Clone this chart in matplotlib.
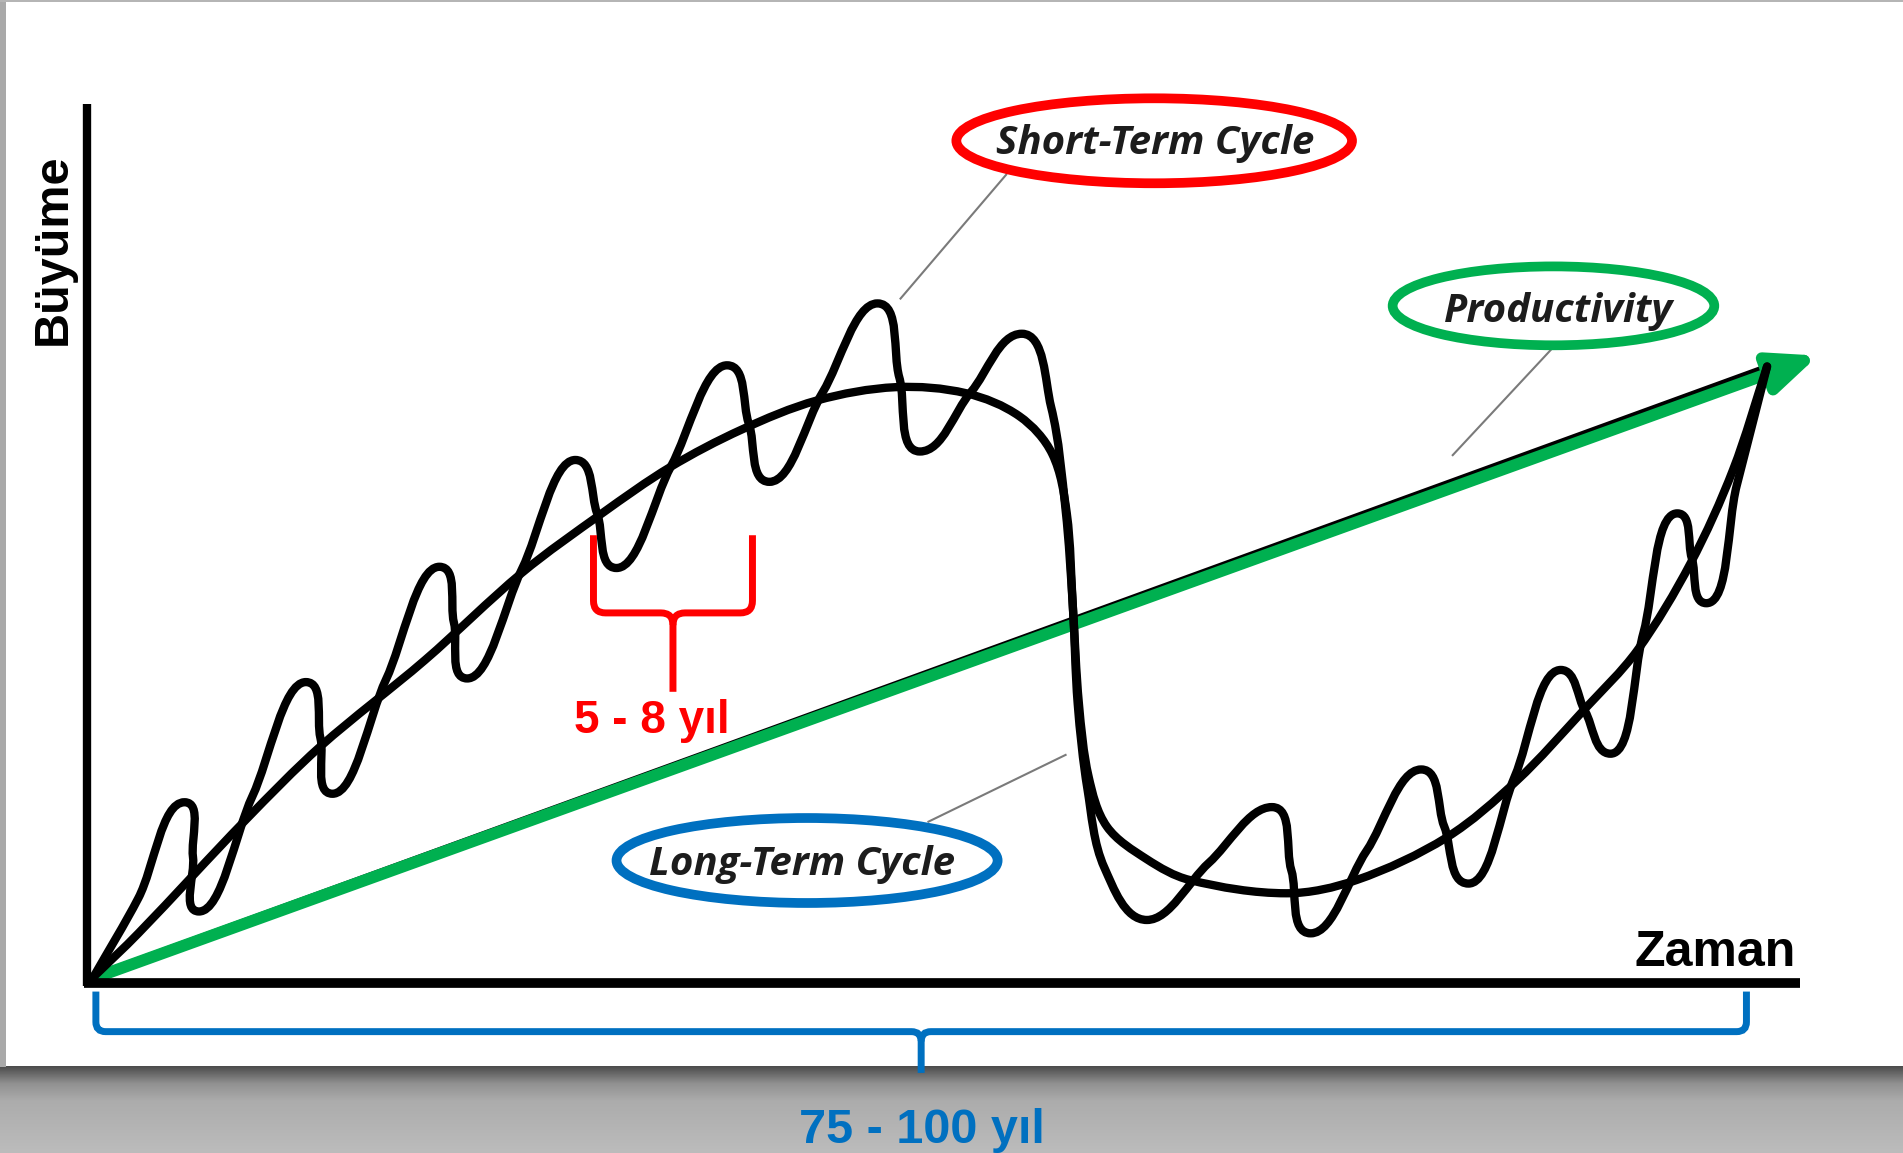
import numpy as np
import matplotlib
matplotlib.use('Agg')
import matplotlib.pyplot as plt
from matplotlib.path import Path
from matplotlib.patches import PathPatch, Ellipse, FancyArrowPatch, Rectangle
from matplotlib.colors import LinearSegmentedColormap

W, H = 1568, 950  # canvas units, y grows downward

# short-term cycle: start, peaks/troughs and the points half way between them
short_x = [77, 114, 152, 159, 164, 208, 252, 264, 274, 318, 362, 374, 385, 430, 474,
           492, 508, 553, 599, 617, 634, 678, 723, 741, 758, 800, 842, 866, 878, 884,
           888, 896, 910, 945, 996, 1048, 1064, 1080, 1126, 1171, 1190, 1210, 1248,
           1286, 1306, 1327, 1354, 1382, 1394, 1406, 1431, 1456]
short_y = [805, 740, 661, 706, 751, 656, 562, 608, 654, 560, 467, 513, 559, 469, 379,
           423, 468, 384, 301, 349, 397, 323, 250, 311, 372, 323, 275, 335, 420, 500,
           580, 650, 715, 758, 711, 665, 717, 769, 701, 634, 681, 728, 640,
           552, 586, 621, 522, 423, 460, 497, 400, 302]
# turning points (peaks and troughs)
short_turn = [0, 0, 1, 0, 1, 0, 1, 0, 1, 0, 1, 0, 1, 0, 1,
              0, 1, 0, 1, 0, 1, 0, 1, 0, 1, 0, 1, 0, 0, 0,
              0, 0, 0, 1, 0, 1, 0, 1, 0, 1, 0, 1, 0,
              1, 0, 1, 0, 1, 0, 1, 0, 0]

# long-term cycle
long_x = [77, 114, 202, 264, 350, 430, 496, 552, 611, 673, 738, 796, 840, 867, 879,
          884, 889, 897, 912, 945, 980, 1060, 1118, 1192, 1250, 1305, 1349, 1393, 1428, 1456]
long_y = [805, 769, 676, 615, 544, 472, 423, 385, 354, 330, 319, 324, 343, 374, 423,
          500, 580, 640, 681, 708, 725, 736, 725, 690, 643, 585, 536, 464, 387, 302]

# productivity trend
trend_x = [77, 1498]
trend_y = [806, 293]

labels = ['Short-Term Cycle', 'Productivity', 'Long-Term Cycle']
label_colors = ['#ff0000', '#00b050', '#0070c0']


def smooth_path(xs, ys, turn=None, k=0.33, cap=19):
    pts = np.column_stack([xs, ys]).astype(float)
    n = len(pts)
    tang = np.zeros_like(pts)
    for i in range(n):
        a, b = pts[max(i - 1, 0)], pts[min(i + 1, n - 1)]
        if turn is not None and turn[i]:
            d = np.array([1.0 if b[0] >= a[0] else -1.0, 0.0])
        else:
            d = b - a
        tang[i] = d / np.hypot(*d)
    verts, codes = [pts[0]], [Path.MOVETO]
    for i in range(n - 1):
        h = k * np.hypot(*(pts[i + 1] - pts[i]))
        h0 = min(h, cap) if (turn is not None and turn[i]) else h
        h1 = min(h, cap) if (turn is not None and turn[i + 1]) else h
        verts += [pts[i] + tang[i] * h0, pts[i + 1] - tang[i + 1] * h1, pts[i + 1]]
        codes += [Path.CURVE4] * 3
    return Path(verts, codes)


fig = plt.figure(figsize=(19.03, 11.53), dpi=100)
ax = fig.add_axes([0, 0, 1, 1])
ax.set_xlim(0, W)
ax.set_ylim(H, 0)
ax.axis('off')

# grey backdrop below the white sheet
shade = LinearSegmentedColormap.from_list(
    'shade', [(0, '#4c4c4c'), (0.08, '#676767'), (0.2, '#919191'),
              (0.4, '#acacac'), (1, '#bcbcbc')])
ax.imshow(np.linspace(0, 1, 200)[:, None], cmap=shade, aspect='auto',
          extent=(0, W, H, 879), origin='upper', zorder=0)
ax.add_patch(Rectangle((0, 0), 5, 879, color='#a9a9a9', lw=0, zorder=0))
ax.add_patch(Rectangle((0, 0), W, 1.5, color='#b5b5b5', lw=0, zorder=0))

# axes
ax.plot([72, 72], [86, 812], color='black', lw=6, solid_capstyle='butt', zorder=5)
ax.plot([69, 1483], [810, 810], color='black', lw=7, solid_capstyle='butt', zorder=5)
ax.text(54, 205, 'Büyüme', rotation=90, rotation_mode='anchor', ha='center',
        va='baseline', fontsize=35, fontweight='bold', family='Liberation Sans')
ax.text(1480, 796, 'Zaman', ha='right', va='baseline', fontsize=36,
        fontweight='bold', family='Liberation Sans')

# productivity trend: thin black line with the green arrow on it
ax.plot([trend_x[0], 1456], [trend_y[0] - 2, 302], color='black', lw=4,
        solid_capstyle='round', zorder=2)
ax.add_patch(FancyArrowPatch((trend_x[0], trend_y[0]), (trend_x[1], trend_y[1]),
                             arrowstyle='-|>,head_length=28,head_width=12',
                             mutation_scale=1, lw=8.5, color='#00b050',
                             shrinkA=0, shrinkB=0, zorder=3))

# cycles
ax.add_patch(PathPatch(smooth_path(long_x, long_y), fill=False, color='black',
                       lw=6, capstyle='round', joinstyle='round', zorder=4))
ax.add_patch(PathPatch(smooth_path(short_x, short_y, short_turn), fill=False,
                       color='black', lw=6, capstyle='round', joinstyle='round', zorder=4))

# labelled ellipses with leader lines
centers = [(951, 116), (1280, 252), (665, 709)]
sizes = [(326, 70), (265, 65), (314, 70)]
baselines = [(952, 126.5), (1284, 265), (661, 721)]
leaders = [((829, 144), (742, 246)), ((1279, 287), (1197, 375)),
           ((765, 677), (878, 622))]
for lab, col, c, s, b, ld in zip(labels, label_colors, centers, sizes, baselines, leaders):
    ax.add_patch(Ellipse(c, s[0], s[1], fill=False, ec=col, lw=7, zorder=6))
    ax.text(b[0], b[1], lab, ha='center', va='baseline', fontsize=29,
            style='italic', fontweight='bold', color='#1c1c1c',
            family='Open Sans', zorder=7)
    ax.plot([ld[0][0], ld[1][0]], [ld[0][1], ld[1][1]], color='#7a7a7a',
            lw=1.5, zorder=1)


def brace(xl, xr, ytop, ybar, ytip, r):
    xm = (xl + xr) / 2
    left = Path([(xl, ytop), (xl, ybar - r), (xl, ybar), (xl + r, ybar),
                 (xm - r, ybar), (xm, ybar), (xm, ybar + r), (xm, ytip)],
                [Path.MOVETO, Path.LINETO, Path.CURVE3, Path.CURVE3,
                 Path.LINETO, Path.CURVE3, Path.CURVE3, Path.LINETO])
    right = Path([(xr, ytop), (xr, ybar - r), (xr, ybar), (xr - r, ybar),
                  (xm + r, ybar), (xm, ybar), (xm, ybar + r)],
                 [Path.MOVETO, Path.LINETO, Path.CURVE3, Path.CURVE3,
                  Path.LINETO, Path.CURVE3, Path.CURVE3])
    return left, right


# 5 - 8 year span
for p in brace(489, 620, 441, 505, 570, 10):
    ax.add_patch(PathPatch(p, fill=False, ec='#ff0000', lw=5, zorder=6))
ax.text(537, 604, '5 - 8 yıl', ha='center', va='baseline', fontsize=33,
        fontweight='bold', color='#ff0000', family='Liberation Sans', zorder=7)

# 75 - 100 year span
for p in brace(79, 1439, 817, 850, 884, 8):
    ax.add_patch(PathPatch(p, fill=False, ec='#0070c0', lw=5, zorder=6))
ax.text(760, 942, '75 - 100 yıl', ha='center', va='baseline', fontsize=35,
        fontweight='bold', color='#0070c0', family='Liberation Sans', zorder=7)

fig.savefig('out.png', dpi=100)
